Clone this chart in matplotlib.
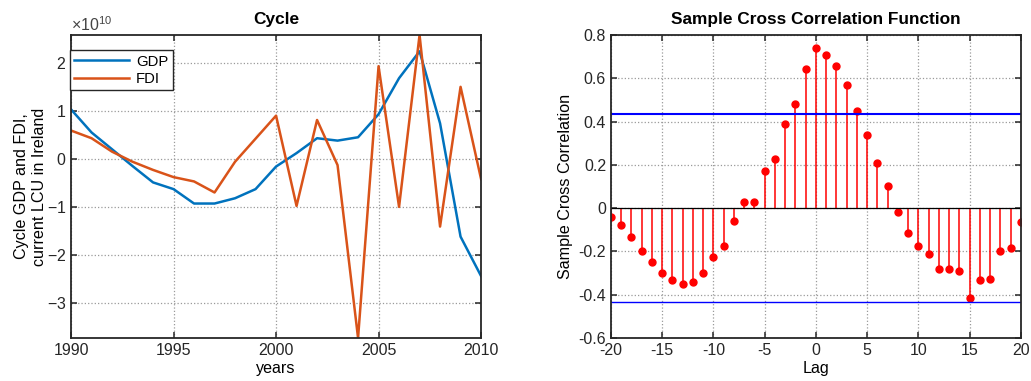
import numpy as np
import matplotlib

matplotlib.use("Agg")
import matplotlib.pyplot as plt  # noqa: E402
from matplotlib.ticker import ScalarFormatter  # noqa: E402

plt.rcParams["font.family"] = ["Liberation Sans", "DejaVu Sans"]
plt.rcParams["font.size"] = 11
plt.rcParams["axes.unicode_minus"] = False
plt.rcParams["mathtext.fontset"] = "custom"
plt.rcParams["mathtext.rm"] = "Liberation Sans"
plt.rcParams["mathtext.it"] = "Liberation Sans:italic"

# cycle component, in units of 1e10 current LCU
years = list(range(1990, 2011))
gdp = [1.03, 0.55, 0.2, -0.15, -0.49, -0.63, -0.93, -0.93, -0.82, -0.63, -0.16,
       0.12, 0.43, 0.38, 0.45, 0.93, 1.68, 2.24, 0.74, -1.62, -2.44]
fdi = [0.59, 0.43, 0.15, -0.06, -0.23, -0.38, -0.47, -0.70, -0.06, 0.42, 0.90,
       -0.98, 0.81, -0.13, -3.73, 1.93, -1.0, 2.58, -1.41, 1.50, -0.42]

# sample cross correlation, lags -20..20
lags = list(range(-20, 21))
xcf = [-0.04, -0.08, -0.135, -0.20, -0.25, -0.30, -0.33, -0.35, -0.34, -0.30,
       -0.225, -0.175, -0.06, 0.026, 0.026, 0.172, 0.226, 0.39, 0.483, 0.645,
       0.742, 0.706, 0.655, 0.57, 0.45, 0.34, 0.21, 0.10, -0.02, -0.115,
       -0.175, -0.21, -0.283, -0.283, -0.292, -0.414, -0.334, -0.328, -0.197,
       -0.182, -0.066]
bound = 0.436

BLUE = "#0072BD"
ORANGE = "#D95319"
AXC = "#262626"


def matlab_axes(ax):
    for s in ax.spines.values():
        s.set_color(AXC)
        s.set_linewidth(1.3)
    ax.tick_params(direction="in", top=True, right=True, colors=AXC,
                   labelcolor=AXC, length=4, width=1.1, labelsize=11.5)
    ax.grid(True, linestyle=":", color="#9a9a9a", linewidth=0.9)
    ax.set_axisbelow(True)


fig = plt.figure(figsize=(10.31, 3.81), dpi=100)

ax1 = fig.add_axes([0.0689, 0.1129, 0.3977, 0.7953])
ax1.plot(years, np.array(gdp) * 1e10, color=BLUE, lw=1.8, label="GDP")
ax1.plot(years, np.array(fdi) * 1e10, color=ORANGE, lw=1.8, label="FDI")
ax1.set_xlim(1990, 2010)
ax1.set_ylim(min(fdi) * 1e10, max(fdi) * 1e10)
ax1.set_xticks(range(1990, 2011, 5))
ax1.set_yticks(np.arange(-3, 3) * 1e10)
fmt = ScalarFormatter(useMathText=True)
fmt.set_powerlimits((0, 0))
ax1.yaxis.set_major_formatter(fmt)
matlab_axes(ax1)
ax1.yaxis.get_offset_text().set_color("#444444")
ax1.yaxis.get_offset_text().set_fontsize(11.5)
ax1.set_title("Cycle", fontweight="bold", fontsize=12.4, pad=8)
ax1.set_xlabel("years", fontsize=11.6, labelpad=2)
ax1.set_ylabel("Cycle GDP and FDI,\ncurrent LCU in Ireland", fontsize=11.6,
               labelpad=0)
leg = ax1.legend(loc="upper left", bbox_to_anchor=(-0.003, 0.95), fancybox=False,
                 framealpha=1, edgecolor=AXC, handlelength=3.7,
                 borderpad=0.3, labelspacing=0.22, borderaxespad=0,
                 handletextpad=0.45, fontsize=10.7)
leg.get_frame().set_linewidth(1.0)

ax2 = fig.add_axes([0.5926, 0.1129, 0.3977, 0.7953])
ax2.vlines(lags, 0, xcf, color="red", lw=1.1)
ax2.plot(lags, xcf, "o", color="red", ms=5)
ax2.axhline(0, color="black", lw=0.9)
ax2.axhline(bound, color="blue", lw=1.5)
ax2.axhline(-bound, color="blue", lw=1.0)
ax2.set_xlim(-20, 20)
ax2.set_ylim(-0.6, 0.8)
ax2.set_xticks(range(-20, 21, 5))
ax2.set_yticks(np.arange(-0.6, 0.81, 0.2))
ax2.set_yticklabels(["-0.6", "-0.4", "-0.2", "0", "0.2", "0.4", "0.6", "0.8"])
ax2.set_xticklabels([str(v) for v in range(-20, 21, 5)])
matlab_axes(ax2)
ax2.set_title("Sample Cross Correlation Function", fontweight="bold",
              fontsize=12.4, pad=8)
ax2.set_xlabel("Lag", fontsize=11.6, labelpad=2)
ax2.set_ylabel("Sample Cross Correlation", fontsize=11.6)

fig.savefig("out.png", dpi=100)
